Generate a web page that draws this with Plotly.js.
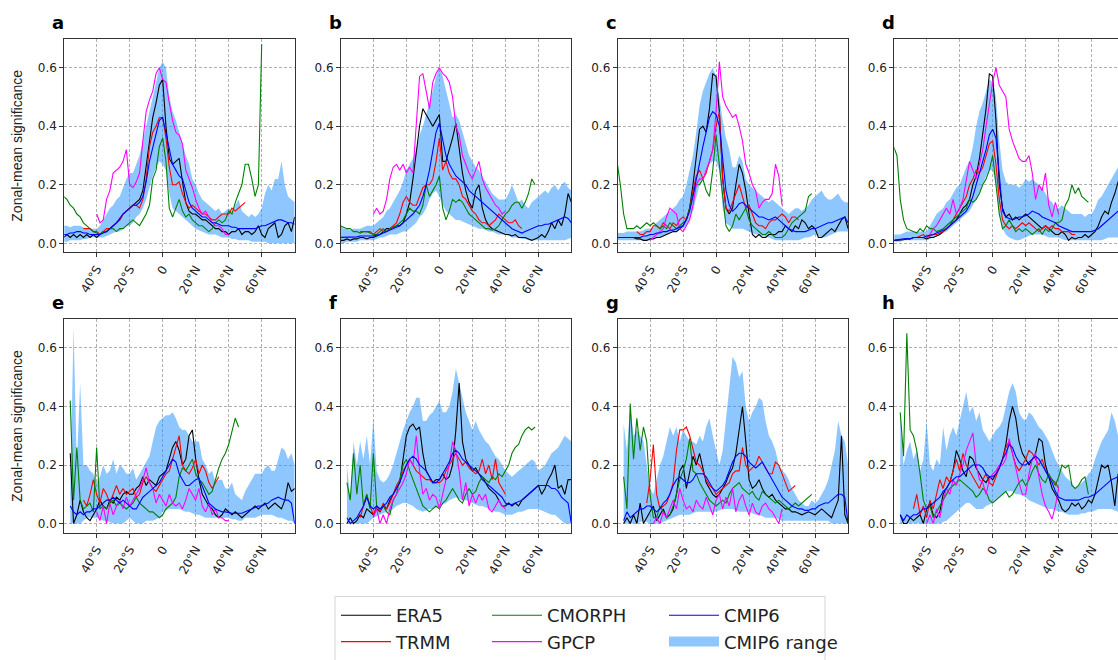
<!DOCTYPE html>
<html>
<head>
<meta charset="utf-8">
<script src="https://cdn.plot.ly/plotly-3.0.1.min.js"></script>
<style>
html,body{margin:0;padding:0;overflow:hidden;background:#fff;}
#chart{width:1130px;height:660px;}
</style>
</head>
<body>
<div id="chart"></div>
<script>
// ---------------- latitude grids ----------------
const latFull = [-60,-58,-56,-54,-52,-50,-48,-46,-44,-42,-40,-38,-36,-34,-32,-30,-28,-26,-24,-22,-20,-18,-16,-14,-12,-10,-8,-6,-4,-2,0,2,4,6,8,10,12,14,16,18,20,22,24,26,28,30,32,34,36,38,40,42,44,46,48,50,52,54,56,58,60,62,64,66,68,70,72,74,76,78,80];
const latTRMM = [-50,-48,-46,-44,-42,-40,-38,-36,-34,-32,-30,-28,-26,-24,-22,-20,-18,-16,-14,-12,-10,-8,-6,-4,-2,0,2,4,6,8,10,12,14,16,18,20,22,24,26,28,30,32,34,36,38,40,42,44,46,48,50];
const latCMORPH = [-60,-58,-56,-54,-52,-50,-48,-46,-44,-42,-40,-38,-36,-34,-32,-30,-28,-26,-24,-22,-20,-18,-16,-14,-12,-10,-8,-6,-4,-2,0,2,4,6,8,10,12,14,16,18,20,22,24,26,28,30,32,34,36,38,40,42,44,46,48,50,52,54,56,58,60];
const latGPCP = [-40,-38,-36,-34,-32,-30,-28,-26,-24,-22,-20,-18,-16,-14,-12,-10,-8,-6,-4,-2,0,2,4,6,8,10,12,14,16,18,20,22,24,26,28,30,32,34,36,38,40];

const tickVals = [-40,-20,0,20,40,60];
const tickText = ['40°S','20°S','0','20°N','40°N','60°N'];
const yTickVals = [0,0.2,0.4,0.6];
const yTickText = ['0.0','0.2','0.4','0.6'];
const panelLetters = ['a','b','c','d','e','f','g','h'];
const seriesNames = ['ERA5','TRMM','CMORPH','GPCP','CMIP6','CMIP6 range'];

// ---------------- panel a ----------------
const era_a = [.02,.03,.02,.03,.02,.03,.02,.03,.02,.03,
 .02,.03,.04,.04,.05,.06,.07,.08,.10,.11,
 .12,.13,.14,.15,.18,.27,.35,.43,.48,.54,
 .56,.40,.29,.27,.28,.29,.21,.14,.11,.10,
 .10,.09,.08,.08,.07,.06,.05,.05,.04,.04,
 .03,.04,.04,.05,.03,.04,.04,.03,.04,.06,
 .03,.02,.05,.06,.07,.02,.03,.06,.07,.04,
 .09];
const trmm_a = [null,.05,.05,.05,.04,.04,.03,.04,.05,.05,
 .06,.07,.08,.10,.11,.12,.13,.13,.12,.15,
 .22,.33,.38,.40,.43,.43,.36,.26,.20,.20,
 .21,.17,.14,.12,.13,.12,.11,.10,.10,.09,
 .08,.08,.09,.10,.10,.10,.12,.11,.12,.13,
 .14];
const cmorph_a = [.16,.15,.13,.12,.10,.09,.07,.06,.05,.04,
 .035,.03,.04,.04,.05,.05,.04,.05,.05,.06,
 .07,.08,.07,.06,.08,.10,.13,.22,.25,.33,
 .36,.28,.12,.09,.12,.15,.11,.09,.10,.08,
 .07,.06,.06,.05,.04,.05,.07,.08,.07,.08,
 .11,.10,.14,.17,.20,.27,.27,.22,.16,.20,
 .68];
const gpcp_a = [.10,.07,.08,.15,.18,.24,.25,.26,.28,.32,
 .20,.19,.21,.24,.35,.45,.49,.52,.58,.60,
 .56,.55,.48,.42,.38,.37,.34,.25,.22,.19,
 .15,.12,.10,.11,.09,.07,.06,.06,.05,.03,
 .03];
const cmip6_a = [.03,.03,.035,.035,.04,.04,.035,.035,.03,.03,
 .03,.03,.035,.04,.05,.06,.07,.085,.10,.11,
 .12,.13,.13,.14,.16,.21,.28,.33,.38,.42,
 .43,.38,.32,.27,.25,.23,.22,.18,.14,.12,
 .11,.10,.09,.09,.08,.07,.07,.065,.06,.06,
 .06,.055,.055,.05,.05,.05,.05,.05,.05,.055,
 .06,.06,.065,.07,.075,.08,.08,.075,.07,.07,
 .065];
const rlo_a = [.005,.005,.01,.01,.01,.01,.015,.015,.02,.02,
 .02,.02,.02,.025,.03,.035,.04,.04,.05,.06,
 .06,.07,.09,.10,.12,.15,.19,.23,.26,.28,
 .27,.25,.17,.12,.11,.10,.09,.08,.07,.06,
 .05,.045,.04,.035,.03,.03,.03,.025,.02,.02,
 .02,.015,.015,.01,.01,.01,.01,.005,.005,.005,
 .005,.005,0,0,0,0,0,0,0,0,
 0];
const rhi_a = [.06,.06,.055,.06,.06,.06,.055,.05,.05,.05,
 .05,.06,.08,.10,.12,.13,.15,.16,.19,.22,
 .24,.24,.27,.30,.35,.40,.46,.51,.55,.60,
 .62,.60,.50,.45,.42,.38,.34,.30,.27,.22,
 .20,.17,.15,.14,.13,.12,.11,.12,.10,.11,
 .12,.11,.13,.15,.11,.10,.09,.10,.09,.10,
 .12,.17,.20,.18,.22,.22,.28,.20,.16,.15,
 .14];

// ---------------- panel b ----------------
const era_b = [.01,.01,.015,.01,.015,.015,.02,.02,.015,.02,
 .02,.025,.03,.04,.05,.05,.055,.06,.06,.07,
 .10,.14,.22,.32,.40,.46,.44,.42,.40,.42,
 .44,.28,.28,.32,.36,.41,.32,.24,.18,.14,
 .12,.18,.20,.12,.08,.06,.05,.045,.04,.035,
 .03,.03,.025,.03,.02,.02,.02,.015,.01,.015,
 .02,.03,.02,.04,.07,.05,.08,.06,.10,.17,
 .14];
const trmm_b = [null,.04,.04,.04,.04,.03,.04,.05,.04,.04,
 .05,.06,.07,.10,.14,.16,.14,.13,.13,.16,
 .19,.20,.20,.22,.28,.36,.25,.28,.24,.22,
 .22,.20,.16,.15,.13,.11,.10,.08,.07,.07,
 .06,.07,.08,.10,.09,.08,.07,.07,.08,.06,
 .05];
const cmorph_b = [.06,.055,.05,.05,.04,.04,.035,.04,.04,.035,
 .03,.03,.04,.05,.04,.05,.055,.06,.07,.08,
 .10,.12,.11,.11,.10,.13,.20,.16,.18,.20,
 .23,.12,.08,.11,.15,.14,.15,.14,.12,.10,
 .09,.08,.07,.06,.05,.05,.045,.05,.06,.08,
 .10,.11,.13,.14,.14,.12,.14,.17,.22,.20,
 null];
const gpcp_b = [.10,.12,.10,.11,.15,.22,.26,.27,.25,.27,
 .24,.26,.24,.40,.57,.58,.52,.46,.55,.58,
 .60,.58,.57,.55,.50,.40,.37,.30,.27,.24,
 .22,.25,.28,.22,.19,.17,.15,.13,.12,.10,
 .11];
const cmip6_b = [.02,.02,.02,.02,.02,.022,.025,.025,.025,.025,
 .025,.028,.03,.035,.04,.045,.05,.055,.06,.07,
 .08,.09,.10,.115,.13,.16,.20,.25,.32,.38,
 .41,.36,.30,.27,.25,.23,.22,.21,.20,.18,
 .17,.16,.15,.14,.13,.12,.11,.10,.09,.08,
 .07,.06,.05,.045,.04,.035,.04,.045,.05,.055,
 .06,.06,.065,.065,.07,.075,.08,.085,.09,.085,
 .07];
const rlo_b = [0,0,.005,.005,.005,.005,.01,.01,.01,.01,
 .01,.015,.02,.02,.025,.03,.03,.03,.035,.04,
 .04,.05,.06,.07,.09,.10,.12,.15,.17,.18,
 .16,.13,.11,.10,.09,.08,.08,.075,.07,.065,
 .06,.055,.05,.05,.045,.04,.04,.035,.03,.03,
 .03,.025,.02,.02,.02,.015,.015,.01,.01,.01,
 .01,.01,.01,.01,.01,.01,.01,.01,.01,.015,
 .02];
const rhi_b = [.06,.05,.05,.045,.05,.05,.05,.055,.06,.06,
 .06,.07,.08,.09,.11,.12,.14,.16,.18,.21,
 .25,.27,.29,.32,.37,.40,.44,.48,.52,.57,
 .60,.57,.52,.47,.43,.44,.42,.38,.34,.30,
 .28,.26,.25,.23,.21,.19,.17,.16,.15,.15,
 .15,.17,.20,.17,.14,.15,.13,.12,.14,.15,
 .16,.17,.18,.17,.19,.20,.18,.20,.21,.19,
 .18];

// ---------------- panel c ----------------
const era_c = [.02,.02,.02,.02,.02,.02,.015,.015,.01,.01,
 .015,.015,.02,.02,.025,.03,.035,.04,.04,.05,
 .06,.08,.12,.20,.30,.39,.40,.38,.46,.58,
 .57,.45,.22,.12,.10,.12,.20,.27,.24,.18,
 .10,.03,.02,.03,.02,.02,.03,.03,.03,.04,
 .04,.06,.05,.04,.06,.05,.08,.07,.05,.06,
 .05,.02,.02,.03,.04,.05,.04,.06,.08,.09,
 .05];
const trmm_c = [null,.04,.03,.03,.04,.04,.06,.06,.05,.07,
 .06,.05,.07,.06,.08,.09,.08,.12,.18,.23,
 .25,.22,.24,.28,.32,.40,.45,.22,.12,.11,
 .14,.17,.20,.16,.12,.13,.10,.07,.06,.06,
 .05,.07,.08,.08,.09,.10,.09,.07,.09,.09,
 .08];
const cmorph_c = [.28,.20,.10,.05,.05,.05,.06,.05,.06,.07,
 .06,.07,.06,.05,.06,.05,.07,.06,.05,.06,
 .07,.08,.12,.17,.20,.20,.22,.18,.16,.25,
 .37,.27,.15,.06,.04,.06,.10,.08,.10,.12,
 .08,.06,.05,.04,.03,.03,.04,.03,.02,.02,
 .02,.03,.05,.07,.08,.09,.10,.11,.16,.17,
 null];
const gpcp_c = [.01,.02,.03,.04,.05,.09,.12,.11,.10,.05,
 .04,.06,.08,.13,.20,.22,.22,.25,.28,.32,
 .45,.62,.50,.47,.45,.43,.44,.40,.35,.27,
 .24,.20,.18,.12,.14,.15,.15,.17,.27,.23,
 .13];
const cmip6_c = [.02,.02,.02,.02,.02,.02,.02,.02,.025,.025,
 .03,.03,.035,.035,.04,.04,.045,.045,.05,.055,
 .06,.08,.11,.16,.22,.28,.33,.38,.43,.45,
 .44,.40,.28,.18,.13,.11,.12,.135,.14,.13,
 .12,.11,.10,.09,.09,.085,.08,.085,.09,.08,
 .07,.06,.05,.045,.04,.04,.04,.04,.045,.05,
 .05,.055,.06,.065,.07,.07,.075,.08,.085,.09,
 .07];
const rlo_c = [.01,.01,.01,.01,.01,.01,.01,.01,.01,.01,
 .01,.015,.02,.02,.025,.03,.035,.04,.04,.045,
 .05,.06,.08,.11,.16,.20,.23,.25,.27,.28,
 .28,.25,.12,.07,.06,.05,.05,.05,.05,.045,
 .04,.035,.03,.03,.025,.02,.02,.015,.01,.01,
 .01,.01,.01,.01,.01,.01,.015,.02,.02,.025,
 .03,.025,.02,.02,.025,.03,.035,.04,.04,.04,
 .04];
const rhi_c = [.035,.035,.035,.04,.04,.04,.04,.04,.045,.05,
 .05,.055,.07,.08,.09,.10,.11,.12,.13,.15,
 .16,.20,.25,.30,.38,.47,.52,.55,.58,.60,
 .57,.50,.42,.36,.32,.26,.26,.30,.28,.22,
 .20,.19,.18,.17,.16,.15,.14,.15,.14,.13,
 .12,.11,.10,.11,.12,.12,.11,.12,.13,.15,
 .16,.17,.18,.16,.15,.15,.16,.17,.15,.14,
 .14];

// ---------------- panel d ----------------
const era_d = [.01,.01,.01,.012,.015,.015,.02,.02,.02,.02,
 .015,.02,.02,.025,.03,.04,.05,.06,.07,.08,
 .10,.12,.13,.15,.20,.23,.29,.38,.46,.58,
 .57,.42,.20,.12,.09,.10,.08,.09,.08,.09,
 .10,.09,.08,.07,.06,.05,.06,.05,.04,.03,
 .03,.04,.03,.01,.02,.015,.02,.02,.03,.02,
 .03,.04,.06,.09,.11,.10,.14,.17,.21,.24,
 .28];
const trmm_d = [null,.02,.02,.025,.03,.02,.025,.03,.03,.035,
 .04,.05,.06,.08,.10,.12,.14,.16,.20,.22,
 .25,.24,.26,.30,.34,.35,.27,.15,.08,.06,
 .05,.06,.05,.06,.07,.06,.07,.06,.05,.04,
 .05,.06,.05,.06,.05,.05,.04,.04,.04,.03,
 .03];
const cmorph_d = [.33,.30,.15,.08,.05,.045,.04,.035,.05,.04,
 .06,.05,.05,.04,.045,.05,.06,.07,.08,.09,
 .10,.11,.12,.15,.14,.15,.17,.20,.22,.25,
 .30,.20,.10,.05,.06,.08,.06,.04,.05,.04,
 .05,.04,.03,.04,.05,.03,.05,.04,.05,.07,
 .07,.08,.13,.15,.20,.17,.19,.16,.15,.14,
 null];
const gpcp_d = [.02,.03,.05,.06,.08,.10,.12,.10,.15,.10,
 .12,.15,.21,.28,.25,.22,.27,.32,.40,.48,
 .55,.60,.54,.52,.50,.39,.35,.32,.29,.28,
 .28,.30,.24,.15,.20,.18,.24,.13,.09,.14,
 .10];
const cmip6_d = [.01,.012,.015,.015,.015,.015,.02,.02,.02,.02,
 .025,.027,.03,.035,.04,.045,.05,.06,.07,.08,
 .09,.10,.11,.13,.16,.20,.24,.28,.32,.37,
 .39,.36,.22,.11,.09,.085,.08,.085,.09,.09,
 .095,.10,.11,.105,.10,.09,.085,.08,.075,.07,
 .06,.055,.05,.045,.04,.04,.04,.04,.04,.04,
 .04,.045,.05,.06,.07,.08,.09,.10,.11,.12,
 .13];
const rlo_d = [.005,.005,.005,.01,.01,.01,.01,.01,.01,.01,
 .01,.015,.02,.025,.03,.035,.04,.05,.06,.07,
 .08,.09,.10,.11,.13,.15,.17,.20,.23,.25,
 .25,.20,.10,.05,.03,.02,.015,.01,.01,.015,
 .02,.025,.03,.03,.03,.03,.025,.02,.02,.02,
 .02,.015,.01,.01,.01,.01,.01,.01,.01,.01,
 .01,.01,.01,.01,.015,.02,.02,.02,.02,.02,
 .02];
const rhi_d = [.03,.03,.03,.035,.04,.04,.04,.04,.04,.04,
 .04,.06,.08,.10,.11,.12,.14,.15,.17,.19,
 .20,.23,.26,.28,.33,.40,.45,.48,.52,.56,
 .55,.50,.35,.25,.21,.20,.20,.20,.19,.20,
 .22,.21,.22,.21,.20,.19,.17,.15,.14,.12,
 .12,.13,.12,.11,.10,.10,.10,.10,.09,.10,
 .10,.12,.15,.16,.18,.20,.22,.24,.26,.28,
 .30];

// ---------------- panel e ----------------
const era_e = [null,null,.24,0,.03,.08,.04,.02,.01,.03,
 .05,.08,.06,.05,.08,.07,.09,.08,.10,.11,
 .10,.10,.12,.13,.16,.13,.15,.14,.13,.16,
 .17,.18,.22,.26,.28,.25,.20,.22,.30,.32,
 .22,.15,.10,.08,.06,.05,.03,.02,.03,.05,
 .04,.03,.04,.03,.02,.03,.04,.05,.06,.05,
 .06,.07,.05,.06,.07,.06,.05,.08,.14,.11,
 .12];
const trmm_e = [null,.08,.06,.10,.15,.10,.07,.12,.10,.07,
 .10,.13,.10,.12,.10,.11,.12,.09,.10,.14,
 .16,.14,.12,.11,.13,.15,.17,.18,.22,.26,
 .30,.20,.18,.17,.19,.22,.17,.20,.18,.14,
 .12,.14,.16,null,null,null,null,null,null,null,
 null];
const cmorph_e = [null,null,.42,.08,.26,.08,.05,.06,.07,.04,
 .26,.05,.06,.05,.07,.08,.06,.07,.06,.05,
 .06,.07,.09,.07,.06,.05,.04,.04,.03,.02,
 .03,.05,.06,.07,.09,.16,.19,.18,.20,.22,
 .17,.15,.14,.12,.10,.11,.15,.19,.22,.24,
 .27,.32,.36,.33,null,null,null,null,null,null,
 null];
const gpcp_e = [.04,.01,.06,0,.07,.03,.06,.08,.05,.09,
 .06,.08,.10,.12,.15,.19,.14,.12,.07,.10,
 .08,.06,.10,.07,.06,.07,.05,.08,.12,.10,
 .08,.12,.06,.04,.07,.03,.05,.02,.02,.01,
 .01];
const cmip6_e = [null,null,.06,.04,.03,.04,.03,.04,.04,.05,
 .05,.06,.07,.08,.08,.09,.08,.07,.08,.07,
 .06,.05,.05,.07,.09,.10,.11,.12,.13,.14,
 .16,.18,.20,.22,.21,.17,.15,.13,.13,.14,
 .15,.155,.13,.10,.07,.06,.05,.045,.04,.04,
 .037,.035,.035,.035,.035,.04,.045,.05,.055,.06,
 .06,.065,.07,.08,.085,.09,.085,.08,.08,.07,
 0];
const rlo_e = [null,null,0,0,0,0,.01,.02,.02,.02,
 .02,.015,.01,.01,.005,0,0,0,0,.01,
 .02,.01,0,0,0,.01,.01,.01,.015,.02,
 .04,.045,.05,.05,.05,.05,.045,.04,.04,.035,
 .03,.03,.025,.02,.02,.02,.02,.02,.02,.02,
 .02,.015,.015,.01,.01,.02,.02,.02,.02,.025,
 .03,.03,.03,.03,.025,.02,.02,.015,.01,.01,
 0];
const rhi_e = [null,null,.10,.67,.20,.48,.20,.20,.18,.17,
 .14,.16,.20,.17,.18,.22,.17,.20,.19,.17,
 .17,.19,.15,.17,.19,.21,.23,.28,.33,.35,
 .36,.37,.37,.38,.36,.33,.32,.32,.30,.28,
 .28,.28,.22,.20,.17,.18,.14,.15,.15,.12,
 .12,.14,.10,.09,.08,.11,.13,.15,.17,.17,
 .17,.19,.20,.18,.18,.22,.26,.25,.22,.24,
 .20];

// ---------------- panel f ----------------
const era_f = [null,null,0,.02,0,.01,.03,.02,.05,.04,
 .03,.05,.04,.06,.05,.08,.10,.12,.14,.22,
 .30,.33,.34,.32,.33,.24,.18,.16,.14,.15,
 .15,.17,.15,.16,.20,.32,.48,.28,.22,.20,
 .18,.19,.17,.16,.14,.12,.11,.10,.08,.06,
 .06,.07,.06,.07,.06,.08,.09,.10,.11,.12,
 .13,.10,.12,.15,.17,.20,.12,.13,.10,.15,
 .15];
const trmm_f = [null,.02,.06,.10,.06,.03,.06,.04,.07,.05,
 .07,.10,.13,.15,.18,.20,.22,.20,.18,.17,
 .16,.15,.15,.14,.14,.14,.15,.18,.20,.22,
 .24,.22,.20,.21,.19,.18,.17,.18,.22,.17,
 .20,.15,.22,.14,.12,.10,null,null,null,null,
 null];
const cmorph_f = [null,null,.14,.08,.24,.10,.20,.06,.10,.05,
 .24,.06,.05,.06,.04,.03,.08,.10,.15,.20,
 .22,.18,.15,.12,.09,.06,.05,.04,.05,.06,
 .05,.07,.08,.10,.12,.10,.08,.07,.10,.12,
 .10,.11,.14,.16,.15,.14,.16,.15,.17,.16,
 .18,.20,.24,.26,.27,.30,.32,.33,.32,.33,
 null];
const gpcp_f = [.02,.05,0,.03,0,.05,.08,.10,.12,.14,
 .17,.22,.20,.30,.18,.10,.12,.08,.10,.09,
 .05,.10,.15,.20,.28,.25,.18,.08,.14,.06,
 .10,.07,.10,.08,.10,.05,.04,.06,.08,.06,
 .05];
const cmip6_f = [null,null,.02,0,.01,.02,.04,.06,.09,.06,
 .05,.06,.05,.06,.07,.09,.10,.12,.14,.17,
 .20,.22,.23,.22,.20,.19,.18,.16,.14,.14,
 .15,.17,.19,.21,.24,.25,.24,.22,.21,.20,
 .19,.18,.17,.15,.14,.13,.12,.11,.10,.09,
 .07,.065,.065,.07,.075,.08,.09,.10,.11,.12,
 .13,.13,.13,.13,.12,.12,.11,.09,.08,.07,
 0];
const rlo_f = [null,null,0,0,0,0,0,0,0,.01,
 .02,.025,.03,.035,.04,.04,.05,.06,.065,.07,
 .07,.065,.06,.05,.045,.04,.045,.05,.05,.055,
 .06,.065,.07,.08,.085,.09,.085,.08,.08,.075,
 .07,.065,.06,.06,.055,.05,.045,.04,.04,.035,
 .03,.03,.03,.035,.04,.04,.045,.05,.05,.05,
 .05,.045,.04,.035,.03,.03,.02,.01,0,0,
 0];
const rhi_f = [null,null,.20,.08,.28,.20,.28,.22,.30,.20,
 .36,.18,.15,.14,.15,.17,.20,.24,.28,.32,
 .35,.38,.40,.43,.43,.35,.35,.37,.38,.40,
 .42,.38,.38,.40,.45,.53,.48,.42,.38,.35,
 .32,.35,.32,.30,.28,.27,.25,.23,.22,.20,
 .18,.17,.16,.17,.18,.19,.20,.21,.22,.21,
 .18,.19,.20,.22,.24,.25,.26,.28,.30,.29,
 .28];

// ---------------- panel g ----------------
const era_g = [null,null,0,.02,0,.03,0,.07,0,.02,
 .04,.06,.01,.03,.05,.02,.03,.05,.10,.18,
 .20,.12,.18,.23,.20,.24,.19,.14,.12,.10,
 .09,.10,.12,.14,.17,.19,.24,.32,.40,.28,
 .15,.12,.13,.15,.12,.10,.09,.10,.08,.07,
 .06,.05,.05,.04,.04,.035,.03,.035,.04,.035,
 .03,.04,.05,.04,.03,.02,.05,.08,.30,.03,
 0];
const trmm_g = [null,null,null,null,.07,.15,.27,.10,.05,.06,
 .07,.10,.14,.25,.32,.32,.33,.30,.25,.21,
 .20,.18,.15,.13,.12,.10,.11,.12,.13,.14,
 .17,.18,.18,.26,.20,.18,.19,.20,.23,.21,
 .19,.17,.17,.21,.20,.17,.14,.11,.12,.13,
 null];
const cmorph_g = [null,null,.16,.05,.41,.22,.36,.25,.33,.28,
 .10,.02,.02,.06,.04,.02,.03,.06,.10,.15,
 .18,.22,.29,.18,.17,.14,.12,.10,.08,.07,
 .06,.07,.08,.07,.10,.12,.13,.14,.12,.11,
 .10,.11,.09,.08,.11,.10,.09,.08,.07,.08,
 .07,.06,.05,.06,.07,.06,.07,.08,.09,.10,
 null];
const gpcp_g = [0,0,.02,0,.04,.02,.05,.08,.05,.12,
 .08,.05,.06,.04,.08,.06,.05,.09,.06,.03,
 .08,.10,.05,.09,.06,.12,.04,.08,.10,.06,
 .03,.07,.04,.03,.06,.07,.05,.04,.02,0,
 .05];
const cmip6_g = [null,null,.01,.04,.02,.03,.04,.05,.05,.06,
 .06,.05,.04,.05,.07,.08,.10,.13,.15,.16,
 .15,.14,.14,.15,.17,.17,.17,.16,.14,.12,
 .11,.12,.13,.15,.18,.21,.23,.24,.24,.23,
 .21,.20,.19,.20,.21,.19,.17,.15,.13,.11,
 .09,.08,.07,.06,.055,.05,.05,.045,.045,.05,
 .05,.06,.065,.07,.07,.08,.09,.10,.10,.09,
 0];
const rlo_g = [null,null,0,0,0,0,0,.005,.01,.005,
 0,0,0,0,.005,.01,.015,.02,.025,.03,
 .03,.03,.03,.035,.04,.04,.04,.04,.04,.04,
 .04,.045,.05,.05,.05,.05,.045,.04,.04,.04,
 .04,.035,.03,.03,.025,.02,.02,.02,.02,.015,
 .01,.01,.01,.01,.01,.01,.01,.01,.01,.01,
 .01,.01,.01,.01,.01,0,0,0,0,0,
 0];
const rhi_g = [null,null,.34,.25,.40,.30,.32,.30,.28,.20,
 .12,.10,.15,.20,.23,.28,.33,.30,.33,.28,
 .32,.30,.28,.28,.27,.30,.28,.33,.36,.30,
 .25,.20,.25,.35,.45,.57,.55,.50,.52,.40,
 .35,.38,.40,.43,.42,.35,.30,.28,.25,.20,
 .18,.17,.15,.12,.10,.08,.07,.06,.06,.08,
 .07,.08,.10,.12,.15,.20,.25,.35,.30,.28,
 .20];

// ---------------- panel h ----------------
const era_h = [null,null,.03,0,0,.02,.01,.02,.03,0,
 .05,.07,.03,.02,.04,.10,.12,.14,.18,.25,
 .22,.18,.16,.23,.22,.19,.17,.15,.14,.16,
 .15,.17,.19,.22,.27,.35,.40,.36,.28,.24,
 .22,.20,.22,.24,.29,.28,.20,.16,.12,.10,
 .08,.05,.04,.05,.07,.06,.07,.05,.06,.08,
 .07,.10,.15,.20,.19,.20,.14,.06,.17,.12,
 .10];
const trmm_h = [null,.05,.10,.03,.06,.02,.08,.05,.10,.15,
 .12,.16,.14,.18,.22,.18,.24,.20,.18,.16,
 .14,.12,.15,.17,.14,.13,.16,.19,.22,.26,
 .28,.24,.20,.18,.20,.22,.25,.24,.22,.20,
 .22,.18,.16,.15,.14,.12,null,null,null,null,
 null];
const cmorph_h = [null,null,.38,.23,.65,.32,.30,.25,.17,.08,
 .05,.06,.02,.04,.06,.08,.10,.12,.13,.14,
 .15,.14,.13,.12,.11,.09,.10,.12,.11,.08,
 .07,.08,.09,.10,.11,.09,.10,.12,.14,.15,
 .13,.15,.18,.20,.17,.15,.14,.17,.15,.13,
 .16,.20,.19,.20,.13,.12,.13,.15,.16,.10,
 null];
const gpcp_h = [0,.03,0,.05,.02,.08,.12,.10,.15,.13,
 .17,.20,.25,.28,.31,.20,.15,.14,.10,.15,
 .17,.18,.20,.20,.22,.29,.24,.18,.14,.10,
 .10,.17,.22,.24,.16,.10,.06,.04,.015,.06,
 .12];
const cmip6_h = [null,null,.03,.01,.03,.02,.03,.03,.04,.05,
 .05,.06,.07,.08,.09,.11,.12,.14,.15,.16,
 .16,.17,.18,.19,.20,.20,.20,.19,.17,.16,
 .16,.17,.19,.22,.24,.27,.26,.23,.21,.20,
 .20,.21,.22,.23,.22,.20,.18,.16,.14,.11,
 .09,.085,.08,.08,.08,.08,.08,.085,.09,.09,
 .095,.10,.11,.12,.13,.14,.15,.155,.16,.17,
 .17];
const rlo_h = [null,null,0,0,0,0,0,0,0,0,
 0,0,0,0,0,.005,.01,.02,.03,.04,
 .05,.06,.07,.07,.06,.05,.05,.05,.06,.065,
 .07,.08,.09,.10,.11,.11,.11,.10,.10,.095,
 .09,.08,.075,.07,.065,.06,.055,.05,.05,.045,
 .04,.04,.035,.03,.03,.03,.03,.035,.035,.04,
 .04,.045,.05,.05,.05,.05,.05,.045,.04,.04,
 .04];
const rhi_h = [null,null,.38,.20,.25,.28,.22,.25,.18,.22,
 .35,.20,.18,.22,.20,.33,.25,.30,.33,.30,
 .35,.40,.45,.38,.40,.35,.38,.32,.30,.28,
 .30,.32,.33,.35,.40,.45,.48,.45,.38,.36,
 .35,.38,.37,.35,.33,.32,.30,.28,.25,.22,
 .20,.18,.16,.15,.14,.12,.13,.14,.15,.17,
 .18,.22,.25,.28,.30,.32,.38,.35,.30,.28,
 .25];

// ---------------- assembly ----------------
const panels = [
  [era_a, trmm_a, cmorph_a, gpcp_a, cmip6_a, rlo_a, rhi_a],
  [era_b, trmm_b, cmorph_b, gpcp_b, cmip6_b, rlo_b, rhi_b],
  [era_c, trmm_c, cmorph_c, gpcp_c, cmip6_c, rlo_c, rhi_c],
  [era_d, trmm_d, cmorph_d, gpcp_d, cmip6_d, rlo_d, rhi_d],
  [era_e, trmm_e, cmorph_e, gpcp_e, cmip6_e, rlo_e, rhi_e],
  [era_f, trmm_f, cmorph_f, gpcp_f, cmip6_f, rlo_f, rhi_f],
  [era_g, trmm_g, cmorph_g, gpcp_g, cmip6_g, rlo_g, rhi_g],
  [era_h, trmm_h, cmorph_h, gpcp_h, cmip6_h, rlo_h, rhi_h]
];

const W = 1130, H = 660;
const colLeft = [64.3, 341, 617.7, 894.3];
const plotW = 230.4, plotH = 215;
const rowTop = [39.3, 321.7];
const BAND = 'rgba(30,144,255,0.5)';
const COLORS = ['#000000', '#ff0000', '#008000', '#ff00ff', '#0000ff'];
const LEGENDS = ['legend', 'legend', 'legend2', 'legend2', 'legend3'];
const LATS = [latFull, latTRMM, latCMORPH, latGPCP, latFull];

const traces = [];
const layout = {
  width: W, height: H, autosize: false,
  margin: {l: 0, r: 0, t: 0, b: 0},
  paper_bgcolor: '#fff', plot_bgcolor: '#fff',
  font: {family: 'DejaVu Sans', size: 12, color: '#222'},
  annotations: [], shapes: []
};

const GRID = {showgrid: true, gridcolor: '#9c9c9c', griddash: '3px,2px', gridwidth: 0.8,
  zeroline: false, showline: true, mirror: true, linecolor: '#333', linewidth: 1,
  ticks: 'outside', ticklen: 4, tickcolor: '#333',
  tickfont: {family: 'DejaVu Sans', size: 12, color: '#222'}};

panels.forEach((p, k) => {
  const col = k % 4, row = Math.floor(k / 4);
  const sfx = k === 0 ? '' : String(k + 1);
  const xa = 'x' + sfx, ya = 'y' + sfx;
  const x0 = colLeft[col], y0 = rowTop[row];
  layout['xaxis' + sfx] = Object.assign({
    domain: [x0 / W, (x0 + plotW) / W], anchor: ya,
    range: [-59.6, 80], tickmode: 'array', tickvals: tickVals, ticktext: tickText,
    tickangle: -60
  }, GRID);
  layout['yaxis' + sfx] = Object.assign({
    domain: [1 - (y0 + plotH) / H, 1 - y0 / H], anchor: xa,
    range: [-0.031, 0.698], tickmode: 'array', tickvals: yTickVals, ticktext: yTickText
  }, GRID);
  // CMIP6 range band
  const lo = p[5], hi = p[6];
  const bx = [], bl = [], bh = [];
  latFull.forEach((lat, i) => {
    if (lo[i] !== null && hi[i] !== null) { bx.push(lat); bl.push(lo[i]); bh.push(hi[i]); }
  });
  traces.push({x: bx, y: bl, xaxis: xa, yaxis: ya, type: 'scatter', mode: 'lines',
    line: {width: 0, color: BAND}, showlegend: false, hoverinfo: 'skip'});
  traces.push({x: bx, y: bh, xaxis: xa, yaxis: ya, type: 'scatter', mode: 'lines',
    fill: 'tonexty', fillcolor: BAND, line: {width: 0, color: BAND},
    showlegend: false, hoverinfo: 'skip'});
  // lines
  for (let s = 0; s < 5; s++) {
    traces.push({
      x: LATS[s], y: p[s], xaxis: xa, yaxis: ya, type: 'scatter', mode: 'lines',
      name: seriesNames[s], line: {color: COLORS[s], width: 1.1},
      showlegend: k === 0, legend: LEGENDS[s], legendrank: s + 1, connectgaps: false
    });
  }
  // panel letter
  layout.annotations.push({
    xref: 'paper', yref: 'paper', x: (x0 - 14) / W, y: 1 - (y0 - 17) / H,
    xanchor: 'left', yanchor: 'middle', showarrow: false, text: '<b>' + panelLetters[k] + '</b>',
    font: {family: 'DejaVu Sans', size: 18, color: '#000'}
  });
  if (col === 0) {
    layout.annotations.push({
      xref: 'paper', yref: 'paper', x: 17 / W, y: 1 - (y0 + plotH / 2) / H,
      xanchor: 'center', yanchor: 'middle', showarrow: false, textangle: -90,
      text: 'Zonal-mean significance',
      font: {family: 'Liberation Sans', size: 14, color: '#222'}
    });
  }
});

// legend entry for the range (swatch only)
traces.push({x: [null], y: [null], xaxis: 'x', yaxis: 'y', type: 'scatter', mode: 'lines',
  name: seriesNames[5], line: {color: BAND, width: 10}, showlegend: true,
  legend: 'legend3', legendrank: 6, hoverinfo: 'skip'});

const legBase = {
  xanchor: 'left', yanchor: 'top', orientation: 'v', bgcolor: 'rgba(0,0,0,0)',
  borderwidth: 0, itemwidth: 50, tracegroupgap: 0, traceorder: 'normal',
  font: {family: 'DejaVu Sans', size: 18, color: '#222'}
};
layout.legend = Object.assign({}, legBase, {x: 336 / W, y: 1 - 602 / H});
layout.legend2 = Object.assign({}, legBase, {x: 487 / W, y: 1 - 602 / H});
layout.legend3 = Object.assign({}, legBase, {x: 664 / W, y: 1 - 602 / H});

layout.shapes.push({
  type: 'rect', xref: 'paper', yref: 'paper',
  x0: 335 / W, x1: 825 / W, y0: 1 - 668 / H, y1: 1 - 601 / H,
  line: {color: '#d4d4d4', width: 1}, fillcolor: 'rgba(255,255,255,0.8)', layer: 'below'
});

Plotly.newPlot('chart', traces, layout, {displayModeBar: false, staticPlot: true});
</script>
</body>
</html>
